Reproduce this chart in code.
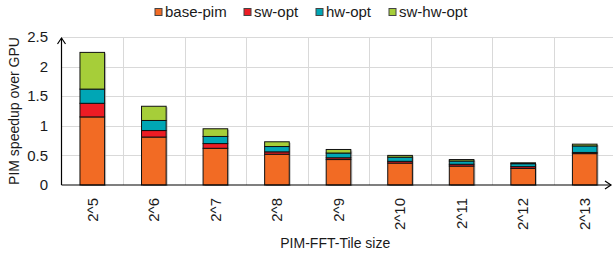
<!DOCTYPE html>
<html>
<head>
<meta charset="utf-8">
<script src="https://cdn.jsdelivr.net/npm/d3@7"></script>
<style>
  body { margin: 0; background: #fff; }
  text { font-family: "Liberation Sans", Arial, sans-serif; fill: #1a1a1a; }
</style>
</head>
<body>
<div id="chart"></div>
<script>
// Tile sizes on the x axis
const categories = ["2^5", "2^6", "2^7", "2^8", "2^9", "2^10", "2^11", "2^12", "2^13"];
const seriesNames = ["base-pim", "sw-opt", "hw-opt", "sw-hw-opt"];
const seriesColors = ["#f26b24", "#ed1c24", "#00a6b5", "#a6ce39"];

// stacked increments
const basePim = [1.15, 0.81, 0.62, 0.52, 0.43, 0.37, 0.32, 0.28, 0.53];
const swOpt = [0.23, 0.11, 0.08, 0.04, 0.03, 0.03, 0.03, 0.03, 0.02];
const hwOpt = [0.24, 0.17, 0.12, 0.09, 0.08, 0.07, 0.055, 0.05, 0.11];
const swHwOpt = [0.62, 0.24, 0.13, 0.08, 0.06, 0.03, 0.025, 0.015, 0.03];

const yTicks = [0, 0.5, 1, 1.5, 2, 2.5];

const width = 613;
const height = 254;
const margin = { top: 37, right: -2.5, bottom: 69, left: 61.5 };

const rows = categories.map((c, i) => ({
  cat: c,
  "base-pim": basePim[i],
  "sw-opt": swOpt[i],
  "hw-opt": hwOpt[i],
  "sw-hw-opt": swHwOpt[i],
}));

const stack = d3.stack().keys(seriesNames)(rows);

const svg = d3
  .select("#chart")
  .append("svg")
  .attr("width", width)
  .attr("height", height);

const x = d3
  .scaleBand()
  .domain(categories)
  .range([margin.left, width - margin.right])
  .padding(0);

const y = d3
  .scaleLinear()
  .domain([0, 2.5])
  .range([height - margin.bottom, margin.top]);

const barW = x.bandwidth() * 0.4;

// horizontal gridlines
svg
  .selectAll(".hgrid")
  .data(yTicks.filter((d) => d > 0))
  .enter()
  .append("line")
  .attr("x1", margin.left)
  .attr("x2", width)
  .attr("y1", (d) => Math.round(y(d)) + 0.5)
  .attr("y2", (d) => Math.round(y(d)) + 0.5)
  .attr("stroke", "#d9d9d9")
  .attr("stroke-width", 1);

// vertical gridlines at band edges
svg
  .selectAll(".vgrid")
  .data(categories.slice(1))
  .enter()
  .append("line")
  .attr("x1", (d) => Math.round(x(d)) + 0.5)
  .attr("x2", (d) => Math.round(x(d)) + 0.5)
  .attr("y1", y(2.5))
  .attr("y2", y(0))
  .attr("stroke", "#d9d9d9")
  .attr("stroke-width", 1);

// faint shadow behind each bar
svg
  .selectAll(".shadow")
  .data(rows)
  .enter()
  .append("rect")
  .attr("x", (d) => x(d.cat) + (x.bandwidth() - barW) / 2 + 1.5)
  .attr("y", (d, i) => y(stack[3][i][1]) + 1)
  .attr("width", barW)
  .attr("height", (d, i) => y(0) - y(stack[3][i][1]))
  .attr("fill", "#9a9a9a")
  .attr("opacity", 0.6);

// stacked bars
svg
  .selectAll(".series")
  .data(stack)
  .enter()
  .append("g")
  .attr("fill", (d, i) => seriesColors[i])
  .selectAll("rect")
  .data((d) => d)
  .enter()
  .append("rect")
  .attr("x", (d) => x(d.data.cat) + (x.bandwidth() - barW) / 2)
  .attr("y", (d) => y(d[1]))
  .attr("width", barW)
  .attr("height", (d) => y(d[0]) - y(d[1]))
  .attr("stroke", "#111")
  .attr("stroke-width", 1);

// axes lines with open arrowheads
const x0 = margin.left;
const yb = y(0);
svg
  .append("line")
  .attr("x1", x0)
  .attr("x2", x0)
  .attr("y1", yb)
  .attr("y2", y(2.5) + 1)
  .attr("stroke", "#000")
  .attr("stroke-width", 1.2);
svg
  .append("path")
  .attr("d", `M${x0 - 4},${y(2.5) + 7}L${x0},${y(2.5) + 1}L${x0 + 4},${y(2.5) + 7}`)
  .attr("fill", "none")
  .attr("stroke", "#000")
  .attr("stroke-width", 1.2);
svg
  .append("line")
  .attr("x1", x0)
  .attr("x2", 611)
  .attr("y1", yb)
  .attr("y2", yb)
  .attr("stroke", "#000")
  .attr("stroke-width", 1.2);
svg
  .append("path")
  .attr("d", `M605,${yb - 4}L611,${yb}L605,${yb + 4}`)
  .attr("fill", "none")
  .attr("stroke", "#000")
  .attr("stroke-width", 1.2);

// y tick labels
svg
  .selectAll(".ytick")
  .data(yTicks)
  .enter()
  .append("text")
  .attr("x", 48)
  .attr("y", (d) => y(d))
  .attr("dy", "0.35em")
  .attr("text-anchor", "end")
  .style("font-size", "15px")
  .text((d) => d);

// x tick labels, rotated
svg
  .selectAll(".xtick")
  .data(categories)
  .enter()
  .append("text")
  .attr(
    "transform",
    (d) => `translate(${x(d) + x.bandwidth() / 2},198) rotate(-90)`
  )
  .attr("dy", "0.35em")
  .attr("text-anchor", "end")
  .style("font-size", "15px")
  .text((d) => d);

// axis titles
svg
  .append("text")
  .attr("x", x0 + (611 - x0) / 2 - 1)
  .attr("y", 248)
  .attr("text-anchor", "middle")
  .style("font-size", "14px")
  .text("PIM-FFT-Tile size");

svg
  .append("text")
  .attr("transform", `translate(19,${(y(0) + y(2.5)) / 2}) rotate(-90)`)
  .attr("text-anchor", "middle")
  .style("font-size", "14px")
  .text("PIM speedup over GPU");

// legend
const legendX = [155, 244, 316, 389];
const legend = svg
  .selectAll(".legend")
  .data(seriesNames)
  .enter()
  .append("g")
  .attr("transform", (d, i) => `translate(${legendX[i]},12)`);

legend
  .append("rect")
  .attr("x", 0)
  .attr("y", -3.5)
  .attr("width", 7)
  .attr("height", 7)
  .attr("fill", (d, i) => seriesColors[i])
  .attr("stroke", "#444")
  .attr("stroke-width", 1);

legend
  .append("text")
  .attr("x", 10)
  .attr("y", 0)
  .attr("dy", "0.35em")
  .style("font-size", "15px")
  .text((d) => d);
</script>
</body>
</html>
